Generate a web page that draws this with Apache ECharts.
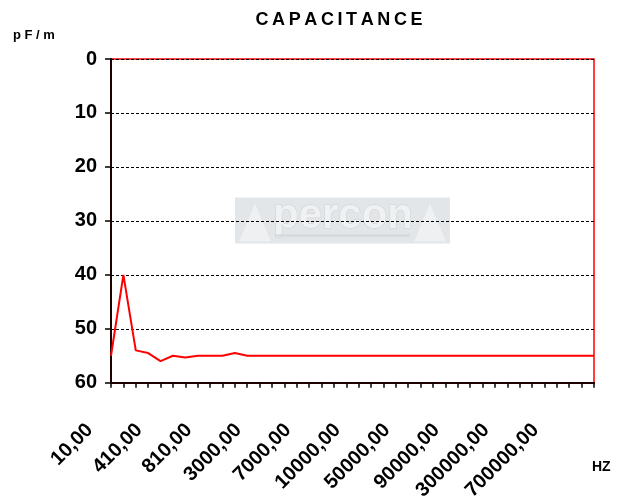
<!DOCTYPE html>
<html><head><meta charset="utf-8">
<script src="https://cdn.jsdelivr.net/npm/echarts@6/dist/echarts.min.js"></script>
<style>html,body{margin:0;padding:0;background:#fff}#c{width:624px;height:503px}</style>
</head><body><div id="c"></div>
<script>
const categories = [
  '10,00','110,00','210,00','310,00','410,00','510,00','610,00','710,00','810,00','910,00',
  '1000,00','2000,00','3000,00','4000,00','5000,00','6000,00','7000,00','8000,00','9000,00','9500,00',
  '10000,00','20000,00','30000,00','40000,00','50000,00','60000,00','70000,00','80000,00','90000,00','100000,00',
  '150000,00','200000,00','300000,00','400000,00','500000,00','600000,00','700000,00','800000,00','900000,00','1000000,00'
];
const capacitance = [
  55, 40, 54, 54.5, 56, 55, 55.3, 55, 55, 55,
  54.5, 55, 55, 55, 55, 55, 55, 55, 55, 55,
  55, 55, 55, 55, 55, 55, 55, 55, 55, 55,
  55, 55, 55, 55, 55, 55, 55, 55, 55, 55
];
const yMin = 0, yMax = 60, yStep = 10;
const titleText = 'C\u2009A\u2009P\u2009A\u2009C\u2009I\u2009T\u2009A\u2009N\u2009C\u2009E';
const yUnit = 'p F / m';
const xUnit = 'HZ';

const FONT = "'Liberation Sans', Arial, sans-serif";
const chart = echarts.init(document.getElementById('c'), null, {renderer: 'canvas'});
chart.setOption({
  animation: false,
  backgroundColor: '#fff',
  grid: {left: 111, right: 30, top: 59, bottom: 119, show: true, borderColor: '#ff0000', borderWidth: 1.5, backgroundColor: 'transparent'},
  graphic: [
    {type: 'group', z: -10, left: 235, top: 195, children: [
      {type: 'rect', shape: {x: 0, y: 0, width: 215, height: 46}, style: {fill: '#e3e6e8'}},
      {type: 'polygon', shape: {points: [[4, 44], [20, 6], [36, 44]]}, style: {fill: '#eef0f1'}},
      {type: 'polygon', shape: {points: [[179, 44], [195, 6], [211, 44]]}, style: {fill: '#eef0f1'}},
      {type: 'text', style: {text: 'percon', x: 108, y: 19, textAlign: 'center', textVerticalAlign: 'middle', font: 'bold 42px ' + FONT, fill: '#eff1f2', stroke: '#ccd1d4', lineWidth: 1}},
      {type: 'rect', shape: {x: 40, y: 37, width: 135, height: 2}, style: {fill: '#d3d7da'}}
    ]},
    {type: 'text', style: {text: titleText, x: 339, y: 20, textAlign: 'center', textVerticalAlign: 'middle', font: 'bold 18px ' + FONT, fill: '#000'}},
    {type: 'text', style: {text: yUnit, x: 13, y: 35, textAlign: 'left', textVerticalAlign: 'middle', font: 'bold 13px ' + FONT, fill: '#000'}},
    {type: 'text', style: {text: xUnit, x: 592, y: 467, textAlign: 'left', textVerticalAlign: 'middle', font: 'bold 14px ' + FONT, fill: '#000'}}
  ],
  xAxis: {
    type: 'category', data: categories, boundaryGap: false, position: 'bottom',
    axisLine: {onZero: false, lineStyle: {color: '#200000', width: 2}},
    axisTick: {show: true, interval: 0, length: 5, lineStyle: {color: '#000', width: 1.5}},
    axisLabel: {interval: 3, rotate: 45, margin: 23, padding: [0, 30, 0, 0], fontFamily: FONT, fontWeight: 'bold', fontSize: 20, color: '#000'},
    splitLine: {show: false}
  },
  yAxis: {
    type: 'value', inverse: true, min: yMin, max: yMax, interval: yStep,
    axisLine: {show: true, lineStyle: {color: '#200000', width: 2}},
    axisTick: {show: true, length: 6, lineStyle: {color: '#000', width: 1.5}},
    axisLabel: {margin: 14, fontFamily: FONT, fontWeight: 'bold', fontSize: 20, color: '#000'},
    splitLine: {show: true, lineStyle: {color: '#000', type: [3, 2], width: 1}}
  },
  series: [{
    type: 'line', data: capacitance, showSymbol: false, symbol: 'none', smooth: false,
    lineStyle: {color: '#ff0000', width: 2}, z: 5
  }]
});
</script></body></html>
